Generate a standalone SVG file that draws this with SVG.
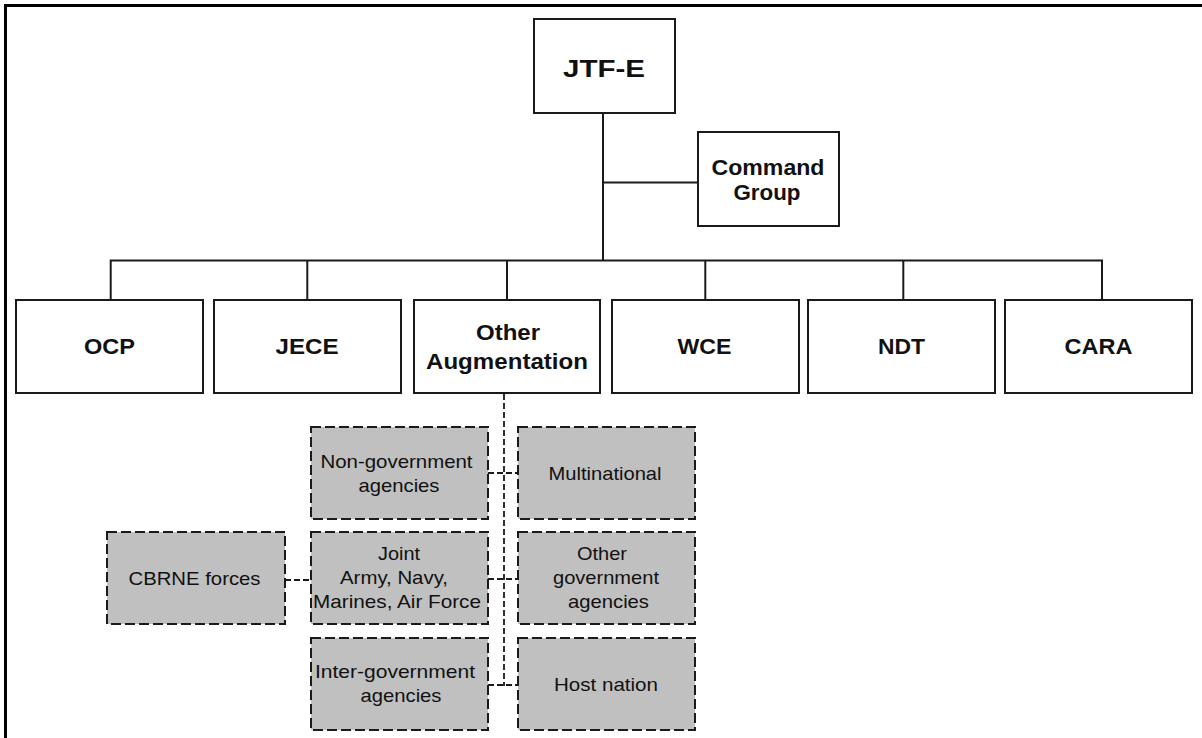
<svg xmlns="http://www.w3.org/2000/svg" width="1202" height="738" viewBox="0 0 1202 738">
<style>
.box{fill:#fff;stroke:#1a1a1a;stroke-width:2}
.dbox{fill:#c0c0c0;stroke:#1a1a1a;stroke-width:2;stroke-dasharray:10 4}
.ln{fill:none;stroke:#1a1a1a;stroke-width:2}
.dl{fill:none;stroke:#1a1a1a;stroke-width:1.8;stroke-dasharray:6 3}
.b{font-family:"Liberation Sans",Arial,sans-serif;font-weight:bold;font-size:21.5px;text-anchor:middle;fill:#111}
.r{font-family:"Liberation Sans",Arial,sans-serif;font-size:18.5px;text-anchor:middle;fill:#111}
</style>
<rect width="1202" height="738" fill="#fff"/>
<path d="M5.5 738 V5.5 H1202" fill="none" stroke="#000" stroke-width="3"/>
<g id="connectors">
<path class="ln" d="M603 113 V260.5"/>
<path class="ln" d="M603 182.5 H698"/>
<path class="ln" d="M110.7 300 V260.5 H1102 V300"/>
<path class="ln" d="M307.3 260.5 V300"/>
<path class="ln" d="M507 260.5 V300"/>
<path class="ln" d="M705.3 260.5 V300"/>
<path class="ln" d="M903.3 260.5 V300"/>
<path class="dl" d="M504 394 V686"/>
<path class="dl" d="M488 473 H518"/>
<path class="dl" d="M488 579 H518"/>
<path class="dl" d="M488 685 H518"/>
<path class="dl" d="M285 580 H311"/>
</g>
<g id="jtfe"><rect class="box" x="534" y="19" width="141" height="94"/><text class="b" x="604" y="77" style="font-size:24px" textLength="82" lengthAdjust="spacingAndGlyphs">JTF-E</text></g>
<g id="command-group"><rect class="box" x="698" y="132" width="141" height="94"/><text class="b" x="768" y="175" textLength="113" lengthAdjust="spacingAndGlyphs">Command</text><text class="b" x="767" y="200" textLength="67" lengthAdjust="spacingAndGlyphs">Group</text></g>
<g id="ocp"><rect class="box" x="16" y="300" width="187" height="93"/><text class="b" x="109.5" y="354" textLength="51" lengthAdjust="spacingAndGlyphs">OCP</text></g>
<g id="jece"><rect class="box" x="214" y="300" width="187" height="93"/><text class="b" x="307" y="354" textLength="63" lengthAdjust="spacingAndGlyphs">JECE</text></g>
<g id="other-augmentation"><rect class="box" x="414" y="300" width="186" height="93"/><text class="b" x="508" y="340" textLength="64" lengthAdjust="spacingAndGlyphs">Other</text><text class="b" x="507" y="369" textLength="162" lengthAdjust="spacingAndGlyphs">Augmentation</text></g>
<g id="wce"><rect class="box" x="612" y="300" width="187" height="93"/><text class="b" x="704.5" y="354" textLength="54" lengthAdjust="spacingAndGlyphs">WCE</text></g>
<g id="ndt"><rect class="box" x="808" y="300" width="187" height="93"/><text class="b" x="901.5" y="354" textLength="47" lengthAdjust="spacingAndGlyphs">NDT</text></g>
<g id="cara"><rect class="box" x="1005" y="300" width="187" height="93"/><text class="b" x="1098.5" y="354" textLength="68" lengthAdjust="spacingAndGlyphs">CARA</text></g>
<g id="non-government"><rect class="dbox" x="311" y="427" width="177" height="92"/><text class="r" x="396.5" y="468" textLength="152" lengthAdjust="spacingAndGlyphs">Non-government</text><text class="r" x="399" y="492" textLength="81" lengthAdjust="spacingAndGlyphs">agencies</text></g>
<g id="multinational"><rect class="dbox" x="518" y="427" width="177" height="92"/><text class="r" x="605" y="480" textLength="113" lengthAdjust="spacingAndGlyphs">Multinational</text></g>
<g id="cbrne"><rect class="dbox" x="107" y="532" width="178" height="92"/><text class="r" x="194.5" y="585" textLength="132" lengthAdjust="spacingAndGlyphs">CBRNE forces</text></g>
<g id="joint"><rect class="dbox" x="311" y="532" width="177" height="92"/><text class="r" x="399" y="560" textLength="42" lengthAdjust="spacingAndGlyphs">Joint</text><text class="r" x="394" y="584" textLength="108" lengthAdjust="spacingAndGlyphs">Army, Navy,</text><text class="r" x="397" y="608" textLength="168" lengthAdjust="spacingAndGlyphs">Marines, Air Force</text></g>
<g id="other-government"><rect class="dbox" x="518" y="532" width="177" height="92"/><text class="r" x="602" y="560" textLength="50" lengthAdjust="spacingAndGlyphs">Other</text><text class="r" x="606" y="584" textLength="106" lengthAdjust="spacingAndGlyphs">government</text><text class="r" x="608.5" y="608" textLength="81" lengthAdjust="spacingAndGlyphs">agencies</text></g>
<g id="inter-government"><rect class="dbox" x="311" y="638" width="177" height="92"/><text class="r" x="395" y="678" textLength="160" lengthAdjust="spacingAndGlyphs">Inter-government</text><text class="r" x="401" y="702" textLength="81" lengthAdjust="spacingAndGlyphs">agencies</text></g>
<g id="host-nation"><rect class="dbox" x="518" y="638" width="177" height="92"/><text class="r" x="606" y="691" textLength="104" lengthAdjust="spacingAndGlyphs">Host nation</text></g>
</svg>
